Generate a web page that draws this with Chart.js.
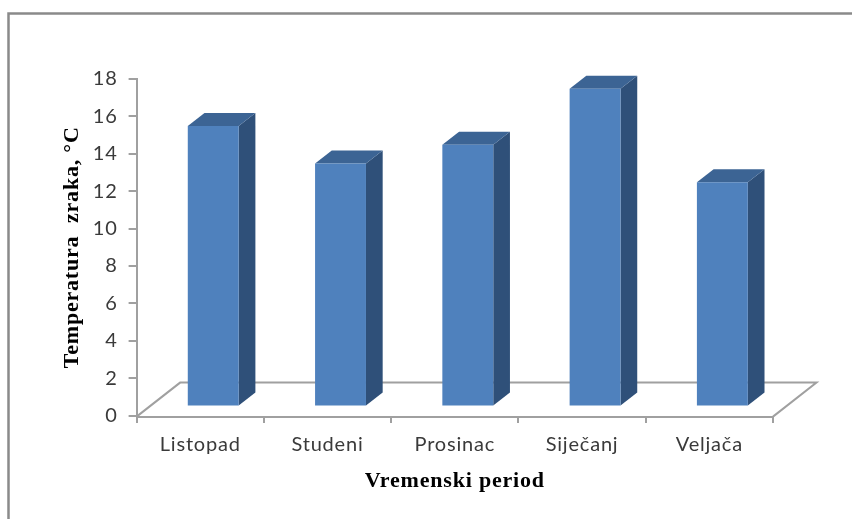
<!DOCTYPE html>
<html>
<head>
<meta charset="utf-8">
<style>
  html, body { margin: 0; padding: 0; background: #fff; }
  #wrap { position: relative; width: 852px; height: 519px; overflow: hidden; }
</style>
<script src="https://cdn.jsdelivr.net/npm/chart.js@4"></script>
</head>
<body>
<div id="wrap"><canvas id="tempBar" width="852" height="519"></canvas></div>
<script>
const categories = ['Listopad', 'Studeni', 'Prosinac', 'Siječanj', 'Veljača'];
const temperatures = [15, 13, 14, 17, 12];
const yTicks = [0, 2, 4, 6, 8, 10, 12, 14, 16, 18];

const axisColor = '#a0a0a0';
const frontColor = '#4f81bd';
const topColor = '#3c6494';
const sideColor = '#2f5079';

// floor depth in px, bars sit part of the way in
const floorDepth = { x: 43.5, y: -34 };
const barShift = { x: 13, y: -9 };
const barDepth = { x: 16.7, y: -13 };

const bars3d = {
    id: 'bars3d',
    beforeDraw(chart) {
        // reference text runs a bit wider than the installed fonts
        chart.ctx.letterSpacing = '0.8px';
    },
    afterLayout(chart) {
        // x axis line sits a little under the zero tick
        chart.scales.x.top += 1.5;
    },
    beforeDatasetsDraw(chart) {
        const { ctx, chartArea: a } = chart;
        const by = a.bottom + 1;

        // outer frame
        ctx.save();
        ctx.strokeStyle = '#8a8a8a';
        ctx.lineWidth = 2.5;
        ctx.beginPath();
        ctx.moveTo(8.5, 519);
        ctx.lineTo(8.5, 13.5);
        ctx.lineTo(852, 13.5);
        ctx.stroke();

        // floor
        ctx.strokeStyle = axisColor;
        ctx.lineWidth = 2;
        ctx.beginPath();
        ctx.moveTo(a.left, by);
        ctx.lineTo(a.left + floorDepth.x, by + floorDepth.y);
        ctx.lineTo(a.right + floorDepth.x, by + floorDepth.y);
        ctx.lineTo(a.right, by);
        ctx.stroke();
        ctx.restore();

        // sides and tops of the bars
        const meta = chart.getDatasetMeta(0);
        ctx.save();
        meta.data.forEach((bar) => {
            const left = bar.x - bar.width / 2 + barShift.x;
            const right = bar.x + bar.width / 2 + barShift.x;
            const top = bar.y + barShift.y;
            const bottom = bar.base + barShift.y;

            ctx.fillStyle = sideColor;
            ctx.beginPath();
            ctx.moveTo(right, top);
            ctx.lineTo(right + barDepth.x, top + barDepth.y);
            ctx.lineTo(right + barDepth.x, bottom + barDepth.y);
            ctx.lineTo(right, bottom);
            ctx.closePath();
            ctx.fill();

            ctx.fillStyle = topColor;
            ctx.beginPath();
            ctx.moveTo(left, top);
            ctx.lineTo(left + barDepth.x, top + barDepth.y);
            ctx.lineTo(right + barDepth.x, top + barDepth.y);
            ctx.lineTo(right, top);
            ctx.closePath();
            ctx.fill();
        });
        ctx.restore();

        // front faces are drawn by the library, just moved into the depth
        ctx.save();
        ctx.translate(barShift.x, barShift.y);
    },
    afterDatasetsDraw(chart) {
        chart.ctx.restore();
    }
};

new Chart(document.getElementById('tempBar').getContext('2d'), {
    type: 'bar',
    data: {
        labels: categories,
        datasets: [{
            data: temperatures,
            backgroundColor: frontColor,
            borderWidth: 0,
            barPercentage: 0.4,
            categoryPercentage: 1
        }]
    },
    options: {
        responsive: false,
        animation: false,
        layout: { padding: { top: 79, left: 59, right: 79, bottom: 0 } },
        plugins: {
            legend: { display: false },
            tooltip: { enabled: false },
            title: { display: false }
        },
        scales: {
            x: {
                grid: { drawOnChartArea: false, color: axisColor, tickLength: 6, lineWidth: 2 },
                border: { color: axisColor, width: 2 },
                ticks: { color: '#3a3a3a', padding: 9, font: { family: 'Lato', size: 20 }, maxRotation: 0 },
                title: {
                    display: true,
                    text: 'Vremenski period',
                    color: '#000',
                    padding: { top: 5, bottom: 24 },
                    font: { family: 'Liberation Serif', size: 22, weight: 'bold' }
                }
            },
            y: {
                min: 0,
                max: 18,
                afterBuildTicks(axis) {
                    axis.ticks = yTicks.map((value) => ({ value }));
                },
                grid: { drawOnChartArea: false, color: axisColor, tickLength: 8, lineWidth: 2 },
                border: { color: axisColor, width: 2 },
                ticks: { color: '#3a3a3a', padding: 11, font: { family: 'Lato', size: 20 } },
                title: {
                    display: true,
                    text: 'Temperatura  zraka, °C',
                    color: '#000',
                    padding: { top: 0, bottom: -2 },
                    font: { family: 'Liberation Serif', size: 22, weight: 'bold' }
                }
            }
        }
    },
    plugins: [bars3d]
});
</script>
</body>
</html>
